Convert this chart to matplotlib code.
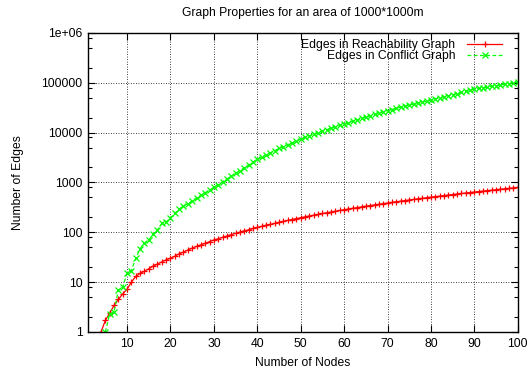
import numpy as np
import matplotlib
matplotlib.use("Agg")
import matplotlib.pyplot as plt
from matplotlib.ticker import FixedLocator, FuncFormatter, LogLocator, NullFormatter

plt.rcParams["font.family"] = ["Liberation Sans", "DejaVu Sans"]
plt.rcParams["font.size"] = 7

title = "Graph Properties for an area of 1000*1000m"
x_label = "Number of Nodes"
y_label = "Number of Edges"
reach_label = "Edges in Reachability Graph"
conflict_label = "Edges in Conflict Graph"

# number of nodes (4..100)
nodes_reach = list(range(4, 101))
reach_edges = [
    1, 1.7, 2.4, 3.4, 4.5, 5.8, 7.2, 10, 13, 15, 16.5, 18.5, 21, 23, 25.5, 28,
    30, 33, 37, 40, 44, 48, 52, 56, 60, 65, 70, 74, 79, 84, 90, 95, 101, 107,
    112, 119, 125, 131, 138, 144, 151, 158, 166, 173, 180, 188, 196, 204, 212,
    220, 229, 238, 246, 255, 264, 274, 283, 293, 303, 312, 323, 333, 343, 354,
    364, 375, 386, 398, 409, 420, 432, 444, 456, 468, 480, 493, 506, 518, 531,
    544, 558, 571, 585, 599, 612, 627, 641, 655, 670, 684, 699, 714, 730, 745,
    760, 776, 792,
]

nodes_conflict = list(range(5, 101))
conflict_edges = [
    1, 2.3, 2.5, 7, 8, 15, 17, 30, 47, 60, 70, 92, 110, 150, 160, 195, 240,
    290, 340, 375, 420, 480, 550, 620, 700, 794, 904, 1028, 1169, 1330, 1514,
    1722, 1959, 2228, 2535, 2884, 3192, 3532, 3908, 4325, 4786, 5224, 5702,
    6223, 6792, 7413, 7980, 8590, 9247, 9954, 10715, 11429, 12190, 13002,
    13868, 14791, 15776, 16827, 17947, 19143, 20417, 21677, 23014, 24434,
    25942, 27542, 28973, 30479, 32063, 33729, 35481, 37154, 38905, 40738,
    42658, 44668, 46989, 49431, 52000, 54702, 57544, 60534, 63680, 66988,
    70469, 74131, 76560, 79068, 81658, 84333, 87096, 89950, 92897, 95940,
    99083, 102329,
]

x_ticks = [10, 20, 30, 40, 50, 60, 70, 80, 90, 100]
y_ticks = [1, 10, 100, 1000, 10000, 100000, 1000000]
y_tick_labels = ["1", "10", "100", "1000", "10000", "100000", "1e+06"]

fs = 8.7

fig = plt.figure(figsize=(5.30, 3.73), dpi=100)
ax = fig.add_axes([0.166, 0.110, 0.811, 0.802])

ax.plot(nodes_reach, reach_edges, color="#ff0000", lw=0.9, marker="+",
        markersize=5, markeredgewidth=0.9, label=reach_label)
ax.plot(nodes_conflict, conflict_edges, color="#00ff00", lw=0.9,
        linestyle=(0, (3, 2)), marker="x", markersize=4.5,
        markeredgewidth=0.9, label=conflict_label)

ax.set_yscale("log")
ax.set_xlim(1, 100)
ax.set_ylim(1, 1e6)

ax.xaxis.set_major_locator(FixedLocator(x_ticks))
ax.yaxis.set_major_locator(FixedLocator(y_ticks))
ax.yaxis.set_major_formatter(FuncFormatter(lambda v, p: y_tick_labels[y_ticks.index(round(v))] if round(v) in y_ticks else ""))
ax.yaxis.set_minor_locator(LogLocator(base=10, subs=(2, 5, 8)))
ax.yaxis.set_minor_formatter(NullFormatter())
ax.xaxis.set_minor_locator(FixedLocator([]))

ax.tick_params(which="both", direction="in", top=True, right=True,
               labelsize=fs, colors="black", pad=4)
ax.tick_params(which="major", length=5, width=0.8)
ax.tick_params(which="minor", length=3, width=0.8)

for s in ax.spines.values():
    s.set_linewidth(1.0)
    s.set_color("black")

ax.grid(True, which="major", color="black", linestyle=(0, (1, 2)), lw=0.6)

ax.set_title(title, fontsize=fs, pad=12)
ax.set_xlabel(x_label, fontsize=fs, labelpad=5.5)
ax.set_ylabel(y_label, fontsize=fs, labelpad=12.5)

leg = ax.legend(loc="upper right", bbox_to_anchor=(0.972, 0.992),
                markerfirst=False, frameon=False,
                fontsize=fs, handlelength=2.9, borderaxespad=0.0,
                labelspacing=-0.03, handletextpad=1.0, borderpad=0.3)
for t in leg.get_texts():
    t.set_ha("right")

fig.savefig("out.png", dpi=100)
